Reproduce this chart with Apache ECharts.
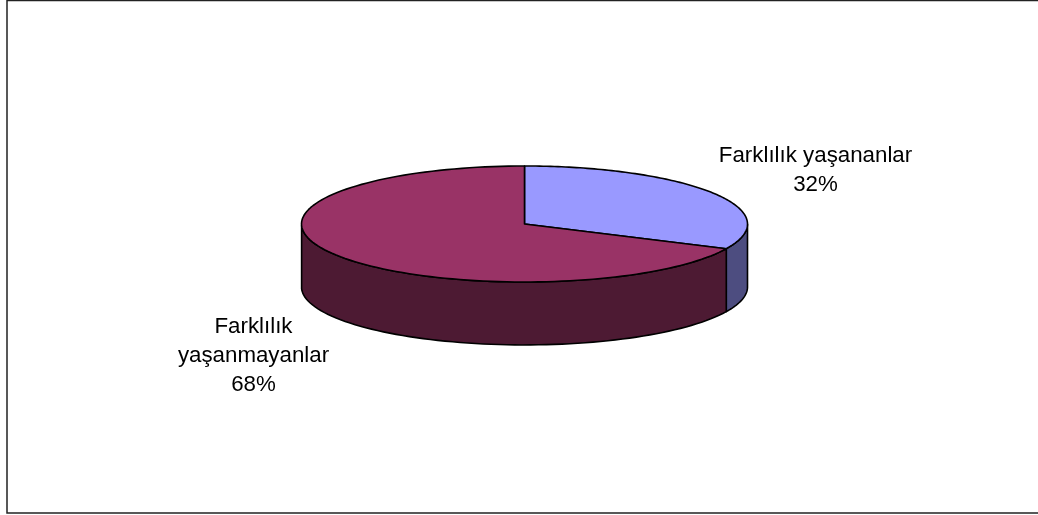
<!DOCTYPE html>
<html><head><meta charset="utf-8">
<style>html,body{margin:0;padding:0;background:#fff}#c{width:1038px;height:515px}</style>
<script src="https://cdn.jsdelivr.net/npm/echarts@6/dist/echarts.min.js"></script>
</head><body><div id="c"></div>
<script>
const categories = ['Farklılık yaşananlar', 'Farklılık\nyaşanmayanlar'];
const values = [32, 68];
const topColors = ['#9999FF', '#993366'];
const wallColors = ['#4D4D80', '#4D1A33'];
const labelPos = [[815.5, 170.5], [253.5, 355.5]];
const depth = 1.085; // wall height, in ellipse-radius units
const total = values.reduce((a, b) => a + b, 0);
const stroke = {stroke: '#000', lineWidth: 1.6, lineJoin: 'round'};

function startOf(i) { return values.slice(0, i).reduce((a, b) => a + b, 0) / total; }
function unit(frac) { // clockwise from 12 o'clock on the unit circle
  const a = frac * 2 * Math.PI;
  return [Math.sin(a), Math.cos(a)];
}
function renderItem(params, api) {
  const i = params.dataIndex;
  const from = startOf(i), to = from + api.value(0) / total;
  const n = 120;
  const rim = [];
  for (let k = 0; k <= n; k++) rim.push(unit(from + (to - from) * k / n));
  const top = [api.coord([0, 0])].concat(rim.map(p => api.coord(p)));
  // visible wall: the part of the rim on the front half (y <= 0)
  const front = rim.filter(p => p[1] <= 0.0001);
  const wall = front.map(p => api.coord(p))
    .concat(front.slice().reverse().map(p => api.coord([p[0], p[1] - depth])));
  const children = [];
  if (wall.length) children.push({type: 'polygon', shape: {points: wall},
    style: Object.assign({fill: wallColors[i]}, stroke)});
  children.push({type: 'polygon', shape: {points: top},
    style: Object.assign({fill: topColors[i]}, stroke)});
  return {type: 'group', children};
}
function renderLabels(params, api) {
  const i = params.dataIndex;
  return {type: 'text', x: labelPos[i][0], y: labelPos[i][1],
    style: {text: categories[i] + '\n' + api.value(0) + '%', x: 0, y: 0, align: 'center', verticalAlign: 'middle',
      font: '22.3px "Liberation Sans", Arial, sans-serif', fill: '#000', lineHeight: 29}};
}
const chart = echarts.init(document.getElementById('c'), null, {renderer: 'canvas'});
chart.setOption({
  animation: false,
  backgroundColor: '#fff',
  graphic: [{type: 'rect', z: -1, shape: {x: 7, y: 0.5, width: 1100, height: 512.5},
    style: {fill: '#fff', stroke: '#222', lineWidth: 1.5}}],
  grid: {left: 301.5, width: 446, top: 166, height: 116},
  xAxis: {type: 'value', min: -1, max: 1, show: false},
  yAxis: {type: 'value', min: -1, max: 1, show: false},
  series: [
    {type: 'custom', coordinateSystem: 'cartesian2d', clip: false, renderItem, z: 2,
     data: values.map(v => [v])},
    {type: 'custom', coordinateSystem: 'cartesian2d', clip: false, renderItem: renderLabels, z: 3,
     data: values.map(v => [v])}
  ]
});
</script></body></html>
